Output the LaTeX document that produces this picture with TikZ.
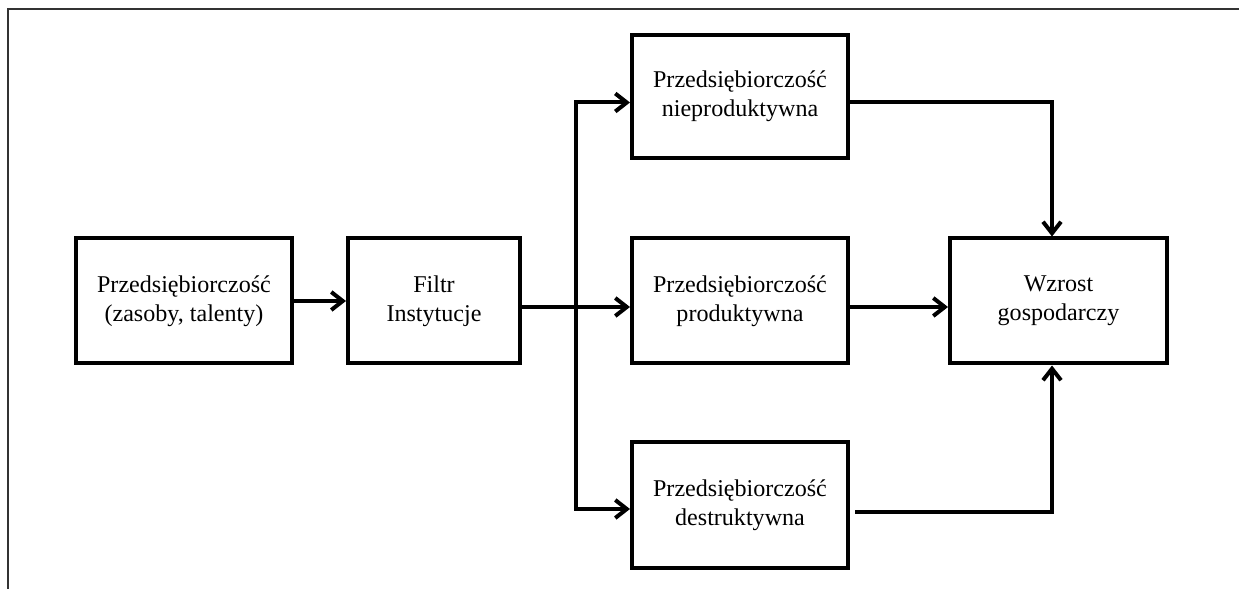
\documentclass[tikz,border=0pt]{standalone}
\usepackage{fontspec}
\setmainfont{Liberation Serif}
\usetikzlibrary{arrows.meta}

\begin{document}
\begin{tikzpicture}[
    >={Straight Barb[length=2.3mm,width=3.6mm]},
    every node/.style={font=\fontsize{13.7}{16.4}\selectfont},
    blok/.style={draw, line width=0.08cm, align=center, minimum height=2.5cm, inner sep=0pt},
    link/.style={line width=0.08cm}]
        \useasboundingbox (0,0) rectangle (24.78,11.78);
        % --- Draw page frame ---
        \draw[line width=0.05cm, gray!40!black] (24.78,11.6) -- (0.16,11.6) -- (0.16,0);
        % ---

        % --- Draw blocks ---
        \node[blok, minimum width=4.32cm] (zasoby) at (3.68,5.76) {Przedsiębiorczość\\(zasoby, talenty)};
        \node[blok, minimum width=3.44cm] (filtr) at (8.68,5.76) {Filtr\\Instytucje};
        \node[blok, minimum width=4.32cm, minimum height=2.46cm] (nieprod) at (14.8,9.85) {Przedsiębiorczość\\nieproduktywna};
        \node[blok, minimum width=4.32cm] (prod) at (14.8,5.76) {Przedsiębiorczość\\produktywna};
        \node[blok, minimum width=4.32cm] (destr) at (14.8,1.68) {Przedsiębiorczość\\destruktywna};
        \node[blok, minimum width=4.34cm] (wzrost) at (21.17,5.76) {Wzrost\\gospodarczy};
        % ---

        % --- Draw connectors ---
        \coordinate (split) at (11.52,5.64);
        \coordinate (join) at (21.04,5.76);
        \coordinate (destrOut) at ([xshift=0.1cm,yshift=-0.14cm]destr.east);
        \draw[link,->] (zasoby) -- (filtr);
        \draw[link,->] ([yshift=-0.12cm]filtr.east) -- ([yshift=-0.12cm]prod.west);
        \draw[link,->] (split) |- ([yshift=-0.12cm]nieprod.west);
        \draw[link,->] (split) |- ([yshift=-0.08cm]destr.west);
        \draw[link,->] ([yshift=-0.12cm]nieprod.east) -| (join |- wzrost.north);
        \draw[link,->] ([yshift=-0.12cm]prod.east) -- ([yshift=-0.12cm]wzrost.west);
        \draw[link,->] (destrOut) -| (join |- wzrost.south);
        % ---
\end{tikzpicture}
\end{document}
